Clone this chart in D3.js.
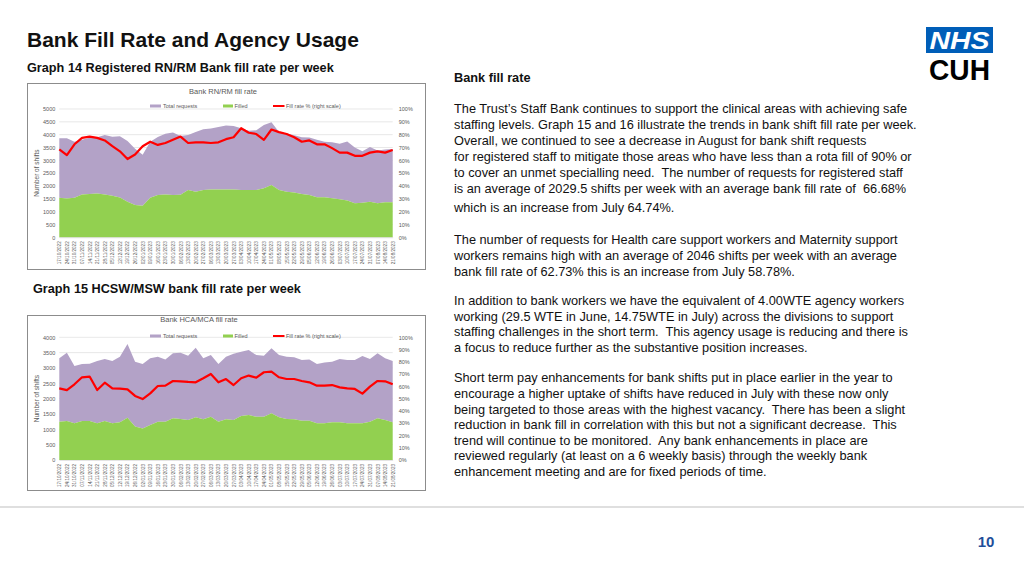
<!DOCTYPE html>
<html><head><meta charset="utf-8">
<script src="https://cdn.jsdelivr.net/npm/d3@7"></script>
<style>
body{margin:0;background:#fff;}
svg{display:block;font-family:"Liberation Sans",Arial,sans-serif;}
</style>
</head><body>
<svg id="slide" width="1024" height="576"></svg>
<script>
// ---------- data ----------
const weeks = ["17/10/2022","24/10/2022","31/10/2022","07/11/2022","14/11/2022","21/11/2022","28/11/2022","05/12/2022","12/12/2022","19/12/2022","26/12/2022","02/01/2023","09/01/2023","16/01/2023","23/01/2023","30/01/2023","06/02/2023","13/02/2023","20/02/2023","27/02/2023","06/03/2023","13/03/2023","20/03/2023","27/03/2023","03/04/2023","10/04/2023","17/04/2023","24/04/2023","01/05/2023","08/05/2023","15/05/2023","22/05/2023","29/05/2023","05/06/2023","12/06/2023","19/06/2023","26/06/2023","03/07/2023","10/07/2023","17/07/2023","24/07/2023","31/07/2023","07/08/2023","14/08/2023","21/08/2023"];

const rnFilled = [1540,1515,1540,1670,1685,1710,1670,1620,1555,1385,1255,1230,1540,1645,1670,1645,1660,1840,1775,1840,1865,1865,1865,1865,1845,1845,1845,1910,2040,1845,1780,1750,1690,1650,1560,1560,1520,1480,1430,1325,1350,1390,1325,1365,1365];
const rnRequests = [2320,2345,2180,2130,2195,2190,2320,2300,2385,2365,2195,1990,2180,2265,2370,2435,2290,2150,2325,2370,2375,2435,2495,2475,2405,2305,2325,2470,2440,2255,2270,2230,2210,2240,2240,2160,2180,2170,2300,2175,2000,2130,2055,2055,2075];
const rnFillRate = [68.5,64,72.5,77.5,78.5,77.5,75.5,71,67,61,64.5,71,74.5,72,73.5,76,78.5,73.5,74,74,73.5,74,76.5,78,85,81.5,80.5,76,84,82,80.5,78,74.5,75.5,72.5,72.5,69.5,66,66,63.5,63.5,66,67,66,68];

const hcaFilled = [1250,1270,1195,1270,1270,1195,1270,1195,1230,1380,1090,1030,1140,1250,1250,1360,1340,1300,1390,1330,1410,1250,1330,1300,1435,1470,1410,1410,1520,1390,1340,1330,1280,1280,1195,1195,1230,1230,1195,1195,1195,1250,1360,1300,1230];
const hcaRequests = [2065,2230,1870,1860,1870,2035,2020,2035,2140,2400,2110,2100,2175,2120,2030,2120,2160,2100,2270,1985,2010,1880,2040,2160,2095,2120,2010,1990,2120,2030,2030,2020,1980,2000,1935,1980,1970,2060,2065,2065,2195,2040,2120,2015,2000];
const hcaFillRate = [58.4,57,61.7,67.4,68,57,63,58.4,58.2,57.6,52.2,49.7,54.3,60.3,60.6,64.4,64.1,63.6,63.3,66.6,70.1,63.3,66,61.1,66.6,68.8,67.1,71.5,72,67.4,66,66,64.4,63.3,60.6,60.6,61.1,59.2,58.4,57.9,54.1,59.8,64.4,64.1,61.7];

const rnLeftTicks = [0,500,1000,1500,2000,2500,3000,3500,4000,4500,5000];
const hcaLeftTicks = [0,500,1000,1500,2000,2500,3000,3500,4000];
const rightTicks = [0,10,20,30,40,50,60,70,80,90,100];
const seriesNames = ["Total requests","Filled","Fill rate % (right scale)"];

const bodyLines = [
 {t:"Bank fill rate", y:82, b:true},
 {t:"The Trust\u2019s Staff Bank continues to support the clinical areas with achieving safe", y:113},
 {t:"staffing levels. Graph 15 and 16 illustrate the trends in bank shift fill rate per week.", y:129},
 {t:"Overall, we continued to see a decrease in August for bank shift requests", y:145},
 {t:"for registered staff to mitigate those areas who have less than a rota fill of 90% or", y:161},
 {t:"to cover an unmet specialling need.  The number of requests for registered staff", y:177},
 {t:"is an average of 2029.5 shifts per week with an average bank fill rate of  66.68%", y:193},
 {t:"which is an increase from July 64.74%.", y:212},
 {t:"The number of requests for Health care support workers and Maternity support", y:244},
 {t:"workers remains high with an average of 2046 shifts per week with an average", y:260},
 {t:"bank fill rate of 62.73% this is an increase from July 58.78%.", y:276},
 {t:"In addition to bank workers we have the equivalent of 4.00WTE agency workers", y:305},
 {t:"working (29.5 WTE in June, 14.75WTE in July) across the divisions to support", y:321},
 {t:"staffing challenges in the short term.  This agency usage is reducing and there is", y:336},
 {t:"a focus to reduce further as the substantive position increases.", y:352},
 {t:"Short term pay enhancements for bank shifts put in place earlier in the year to", y:382},
 {t:"encourage a higher uptake of shifts have reduced in July with these now only", y:398},
 {t:"being targeted to those areas with the highest vacancy.  There has been a slight", y:414},
 {t:"reduction in bank fill in correlation with this but not a significant decrease.  This", y:429},
 {t:"trend will continue to be monitored.  Any bank enhancements in place are", y:445},
 {t:"reviewed regularly (at least on a 6 weekly basis) through the weekly bank", y:460},
 {t:"enhancement meeting and are for fixed periods of time.", y:476}
];

// ---------- drawing ----------
const svg = d3.select("#slide");
const COL_REQ = "#B3A2C7", COL_FILL = "#92D050", COL_RATE = "#FF0000", TXT = "#595959";

// headings
svg.append("text").attr("x",27).attr("y",47).attr("font-size",21).attr("font-weight","bold").attr("fill","#111").text("Bank Fill Rate and Agency Usage");
svg.append("text").attr("x",27).attr("y",72).attr("font-size",12.7).attr("font-weight","bold").attr("fill","#111").text("Graph 14 Registered RN/RM Bank fill rate per week");
svg.append("text").attr("x",33).attr("y",293).attr("font-size",12.7).attr("font-weight","bold").attr("fill","#111").text("Graph 15 HCSW/MSW bank fill rate per week");

// body text
svg.append("g").selectAll("text").data(bodyLines).join("text")
  .attr("x",454).attr("y",d=>d.y).attr("font-size",12.75)
  .attr("font-weight",d=>d.b?"bold":"normal").attr("fill","#111")
  .attr("xml:space","preserve").style("white-space","pre").text(d=>d.t);

// logo
svg.append("rect").attr("x",926).attr("y",27).attr("width",67).attr("height",26).attr("fill","#005EB8");
svg.append("text").attr("x",959.5).attr("y",49).attr("text-anchor","middle").attr("font-size",24).attr("font-weight","bold").attr("font-style","italic").attr("fill","#fff").attr("textLength",60).attr("lengthAdjust","spacingAndGlyphs").text("NHS");
svg.append("text").attr("x",959.5).attr("y",80).attr("text-anchor","middle").attr("font-size",29).attr("font-weight","bold").attr("fill","#000").attr("textLength",61).attr("lengthAdjust","spacingAndGlyphs").text("CUH");

// footer
svg.append("line").attr("x1",0).attr("x2",1024).attr("y1",507).attr("y2",507).attr("stroke","#bfbfbf").attr("stroke-width",1);
svg.append("text").attr("x",986).attr("y",547).attr("text-anchor","middle").attr("font-size",15).attr("font-weight","bold").attr("fill","#1F4E9A").text("10");

function drawChart(cfg){
  const g = svg.append("g");
  g.append("rect").attr("x",cfg.box[0]+0.5).attr("y",cfg.box[1]+0.5).attr("width",cfg.box[2]-cfg.box[0]).attr("height",cfg.box[3]-cfg.box[1])
    .attr("fill","#fff").attr("stroke","#8c8c8c").attr("stroke-width",1);
  const x = d3.scalePoint().domain(weeks).range([59.3,392.7]);
  const y = d3.scaleLinear().domain([0,cfg.yMax]).range([cfg.y0,cfg.y1]);
  const yr = d3.scaleLinear().domain([0,100]).range([cfg.y0,cfg.y1]);

  // gridlines
  g.append("g").selectAll("line").data(cfg.leftTicks).join("line")
    .attr("x1",59.3).attr("x2",392.7).attr("y1",d=>y(d)).attr("y2",d=>y(d))
    .attr("stroke","#D9D9D9").attr("stroke-width",0.6);

  // stacked areas
  const rows = weeks.map((w,i)=>({week:w, filled:cfg.filled[i], requests:cfg.requests[i]}));
  const stack = d3.stack().keys(["filled","requests"])(rows);
  const area = d3.area().x(d=>x(d.data.week)).y0(d=>y(d[0])).y1(d=>y(d[1]));
  g.append("path").datum(stack[1]).attr("d",area).attr("fill",COL_REQ);
  g.append("path").datum(stack[0]).attr("d",area).attr("fill",COL_FILL);

  // fill rate line
  const line = d3.line().x((d,i)=>x(weeks[i])).y(d=>yr(d));
  g.append("path").datum(cfg.rate).attr("d",line).attr("fill","none").attr("stroke",COL_RATE).attr("stroke-width",2.2).attr("stroke-linejoin","round");

  // axes
  const la = d3.axisLeft(y).tickValues(cfg.leftTicks).tickSize(0).tickPadding(4).tickFormat(d3.format("d"));
  const lg = g.append("g").attr("transform","translate(59.3,0)").call(la);
  const ra = d3.axisRight(yr).tickValues(rightTicks).tickSize(0).tickPadding(6).tickFormat(d=>d+"%");
  const rg = g.append("g").attr("transform","translate(392.7,0)").call(ra);
  [lg,rg].forEach(a=>{a.select(".domain").remove(); a.selectAll("text").attr("font-size",5.5).attr("fill",TXT).attr("font-family","Liberation Sans, Arial, sans-serif");});

  const xa = d3.axisBottom(x).tickSize(0).tickPadding(3);
  const xg = g.append("g").attr("transform",`translate(0,${cfg.y0})`).call(xa);
  xg.select(".domain").attr("stroke","#D9D9D9").attr("stroke-width",0.6);
  xg.selectAll("text").attr("font-size",4.6).attr("fill",TXT).attr("font-family","Liberation Sans, Arial, sans-serif")
    .attr("text-anchor","end").attr("dy","0.32em").attr("transform","translate(0,2) rotate(-90)").attr("x",-2).attr("y",0);

  // titles
  g.append("text").attr("x",cfg.titleX).attr("y",cfg.titleY).attr("text-anchor","middle").attr("font-size",7.5).attr("fill",TXT).text(cfg.title);
  g.append("text").attr("transform",`translate(39,${(cfg.y0+cfg.y1)/2}) rotate(-90)`).attr("text-anchor","middle").attr("font-size",6.5).attr("fill",TXT).text("Number of shifts");

  // legend
  const ly = cfg.legendY;
  g.append("rect").attr("x",150).attr("y",ly-1.5).attr("width",11).attr("height",3).attr("fill",COL_REQ);
  g.append("text").attr("x",163).attr("y",ly+2).attr("font-size",5.5).attr("fill",TXT).text(seriesNames[0]);
  g.append("rect").attr("x",223).attr("y",ly-1.5).attr("width",10).attr("height",3).attr("fill",COL_FILL);
  g.append("text").attr("x",234.5).attr("y",ly+2).attr("font-size",5.5).attr("fill",TXT).text(seriesNames[1]);
  g.append("line").attr("x1",273).attr("x2",284.5).attr("y1",ly).attr("y2",ly).attr("stroke",COL_RATE).attr("stroke-width",2);
  g.append("text").attr("x",286).attr("y",ly+2).attr("font-size",5.5).attr("fill",TXT).text(seriesNames[2]);
}

drawChart({box:[27,83,425,269], y0:237.3, y1:109, yMax:5000, leftTicks:rnLeftTicks,
  filled:rnFilled, requests:rnRequests, rate:rnFillRate, title:"Bank RN/RM fill rate", titleX:223, titleY:94, legendY:106});
drawChart({box:[27,315,425,490], y0:460, y1:337.3, yMax:4000, leftTicks:hcaLeftTicks,
  filled:hcaFilled, requests:hcaRequests, rate:hcaFillRate, title:"Bank HCA/MCA fill rate", titleX:199, titleY:322, legendY:336});
</script>
</body></html>
